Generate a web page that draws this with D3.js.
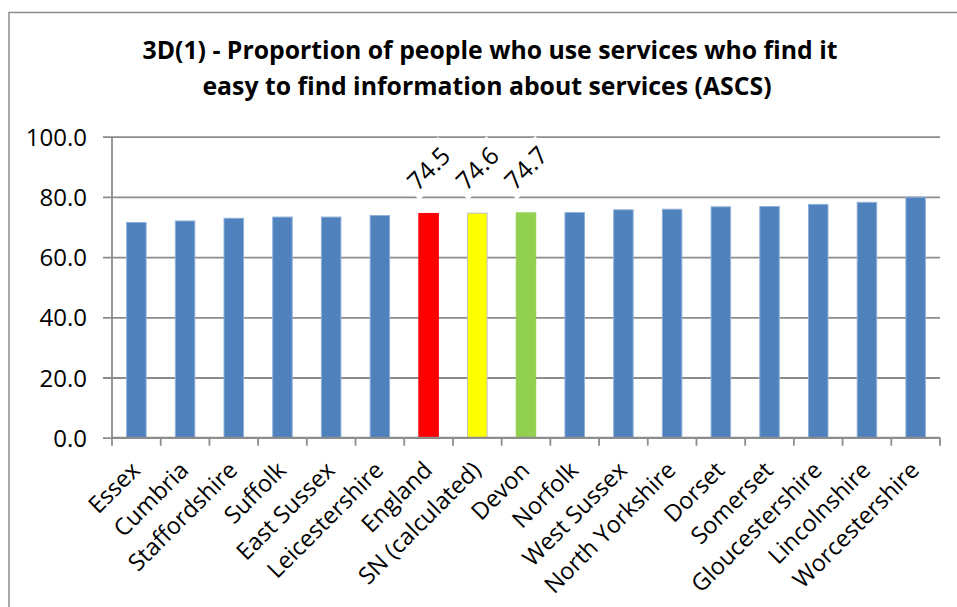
<!DOCTYPE html>
<html>
<head>
<meta charset="utf-8">
<script src="https://cdn.jsdelivr.net/npm/d3@7"></script>
<style>
  html, body { margin: 0; padding: 0; background: #fff; }
  svg { display: block; }
  text { font-family: "Open Sans", "Liberation Sans", sans-serif; fill: #000; }
</style>
</head>
<body>
<svg id="chart" width="957" height="607"></svg>
<script>
// Adult social care survey measure 3D(1), by council
const categories = [
  "Essex", "Cumbria", "Staffordshire", "Suffolk", "East Sussex",
  "Leicestershire", "England", "SN (calculated)", "Devon", "Norfolk",
  "West Sussex", "North Yorkshire", "Dorset", "Somerset",
  "Gloucestershire", "Lincolnshire", "Worcestershire"
];
const values = [
  71.5, 72.0, 72.9, 73.3, 73.3,
  73.8, 74.5, 74.6, 74.7, 74.8,
  75.7, 75.9, 76.7, 76.8,
  77.5, 78.2, 79.9
];
// Bars that carry a value label
const labelled = ["England", "SN (calculated)", "Devon"];
const yTicks = [0, 20, 40, 60, 80, 100];
const titleLines = [
  "3D(1) - Proportion of people who use services who find it",
  "easy to find information about services (ASCS)"
];

const fills = {
  "England": "#FF0000",
  "SN (calculated)": "#FFFF00",
  "Devon": "#92D050"
};
const strokes = {
  "England": "#FF0000",
  "SN (calculated)": "#BFBFBF",
  "Devon": "#92D050"
};
const defaultFill = "#4F81BD";
const defaultStroke = "#8EB0D8";
const gridColor = "#8C8C8C";

const svg = d3.select("#chart");
const plot = { left: 112, right: 940, top: 136.7, bottom: 437.7 };

// Outer chart frame
svg.append("rect")
  .attr("x", 9).attr("y", 12.5)
  .attr("width", 1000).attr("height", 700)
  .attr("fill", "#fff")
  .attr("stroke", gridColor)
  .attr("stroke-width", 1.5);

// Title
svg.append("g").selectAll("text")
  .data(titleLines)
  .join("text")
  .attr("x", (d, i) => i === 0 ? 490 : 487)
  .attr("y", (d, i) => 58.5 + i * 36)
  .attr("text-anchor", "middle")
  .attr("font-weight", "bold")
  .attr("font-size", 24.8)
  .text(d => d);

const x = d3.scaleBand()
  .domain(categories)
  .range([plot.left, plot.right])
  .paddingInner(0.6)
  .paddingOuter(0.3);

// band boundaries for tick marks
const step = (plot.right - plot.left) / categories.length;

const y = d3.scaleLinear()
  .domain([0, 100])
  .range([plot.bottom, plot.top]);

// Gridlines + y axis
const yAxis = d3.axisLeft(y)
  .tickValues(yTicks)
  .tickSize(-(plot.right - plot.left))
  .tickPadding(25)
  .tickFormat(d3.format(".1f"));

const gy = svg.append("g")
  .attr("transform", `translate(${plot.left},0)`)
  .call(yAxis);
gy.select(".domain").remove();
gy.selectAll(".tick line")
  .attr("x1", -9)
  .attr("stroke", gridColor)
  .attr("stroke-width", 1.8);
gy.selectAll(".tick text")
  .attr("font-size", 24)
  .attr("dy", "0.36em")
  .attr("fill", "#000");

// y axis line
svg.append("line")
  .attr("x1", plot.left).attr("x2", plot.left)
  .attr("y1", plot.top).attr("y2", plot.bottom)
  .attr("stroke", gridColor)
  .attr("stroke-width", 1.8);

// Bars
svg.append("g").selectAll("rect")
  .data(categories.map((c, i) => ({ c, v: values[i] })))
  .join("rect")
  .attr("x", d => x(d.c))
  .attr("width", x.bandwidth())
  .attr("y", d => y(d.v))
  .attr("height", d => y(0) - y(d.v))
  .attr("fill", d => fills[d.c] || defaultFill)
  .attr("stroke", d => strokes[d.c] || defaultStroke)
  .attr("stroke-width", 1);

// x axis with tick marks at band edges
const gx = svg.append("g").attr("transform", `translate(0,${plot.bottom})`);
gx.append("line")
  .attr("x1", plot.left).attr("x2", plot.right)
  .attr("stroke", gridColor).attr("stroke-width", 1.8);
gx.selectAll("line.tk")
  .data(d3.range(categories.length + 1))
  .join("line")
  .attr("class", "tk")
  .attr("x1", i => plot.left + i * step)
  .attr("x2", i => plot.left + i * step)
  .attr("y1", 0).attr("y2", 8)
  .attr("stroke", gridColor).attr("stroke-width", 1.8);

// Category labels, rotated
svg.append("g").selectAll("text")
  .data(categories)
  .join("text")
  .attr("transform", d => `translate(${x(d) + x.bandwidth() / 2 + 5},${plot.bottom + 34}) rotate(-45)`)
  .attr("text-anchor", "end")
  .attr("font-size", 23.5)
  .text(d => d);

// Value labels with white backing
const lg = svg.append("g").selectAll("g")
  .data(categories.map((c, i) => ({ c, v: values[i] })).filter(d => labelled.includes(d.c)))
  .join("g")
  .attr("transform", d => `translate(${x(d.c) + x.bandwidth() / 2},${y(d.v) - 45}) rotate(-45)`);
lg.append("rect")
  .attr("x", -29).attr("y", -16)
  .attr("width", 58).attr("height", 32)
  .attr("fill", "#fff");
lg.append("text")
  .attr("text-anchor", "middle")
  .attr("dy", "0.36em")
  .attr("font-size", 24.5)
  .text(d => d3.format(".1f")(d.v));
</script>
</body>
</html>
